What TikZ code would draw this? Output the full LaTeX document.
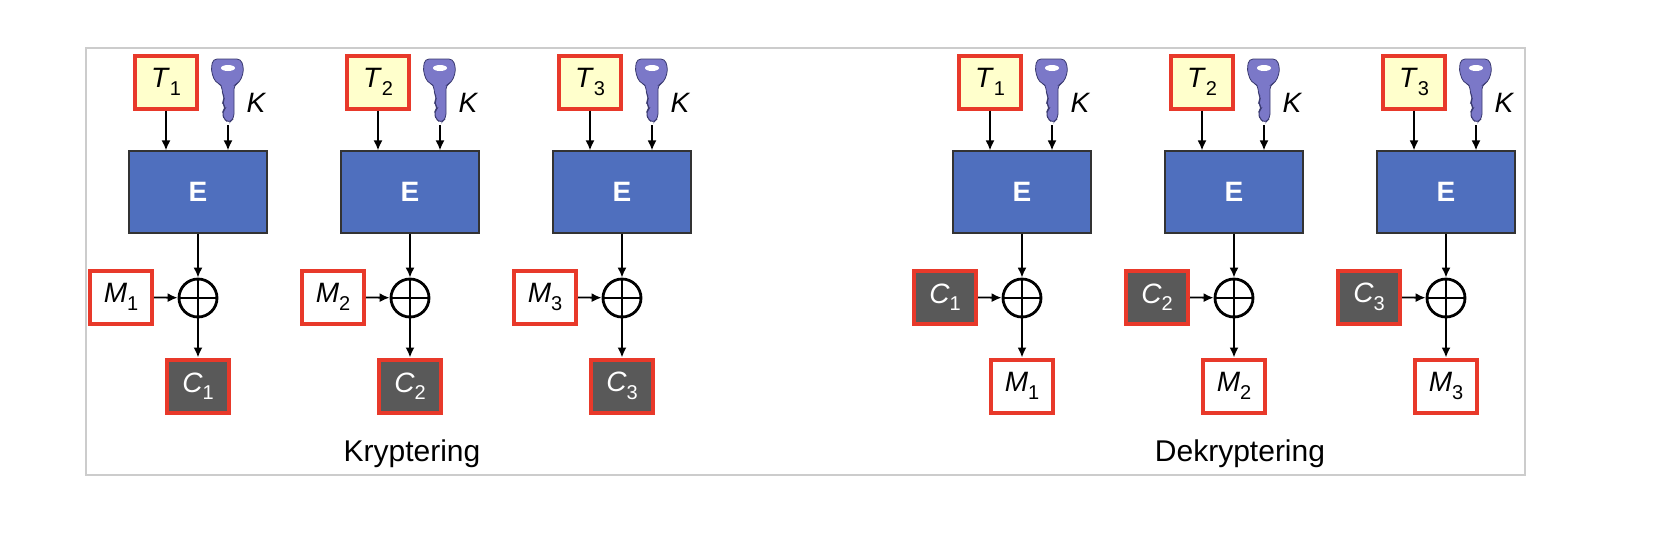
\documentclass[tikz,border=0pt]{standalone}
\usepackage{fontspec}
\setmainfont{Liberation Sans}
\usetikzlibrary{arrows.meta}
\definecolor{redb}{HTML}{E8392A}
\definecolor{eblue}{HTML}{4F6FBE}
\definecolor{keyc}{HTML}{7B78C8}
\definecolor{keyd}{HTML}{3A3A70}
\definecolor{tyel}{HTML}{FFFFCC}
\definecolor{dgray}{HTML}{595959}
\begin{document}
\begin{tikzpicture}[x=0.5pt,y=-0.5pt,
  lbl/.style={font=\fontsize{14}{16}\selectfont},
  rbox/.style={draw=redb,line width=2pt,minimum width=31pt,minimum height=26.5pt,inner sep=0pt,lbl},
  tbox/.style={rbox,fill=tyel},
  wbox/.style={rbox,fill=white},
  dbox/.style={rbox,fill=dgray,text=white},
  ebox/.style={draw=black!80,line width=0.6pt,fill=eblue,minimum width=69pt,minimum height=41pt,text=white,font=\fontsize{14}{16}\selectfont\bfseries},
  xor/.style={circle,draw,line width=1.4pt,minimum size=19pt,inner sep=0pt,
    path picture={\draw[line width=1.4pt] (path picture bounding box.north)--(path picture bounding box.south) (path picture bounding box.west)--(path picture bounding box.east);}},
  arr/.style={line width=0.9pt,-{Latex[length=5pt,width=4.5pt]}}]
\useasboundingbox (0,0) rectangle (1678,538);
\draw[black!20,line width=0.6pt] (86,48) rectangle (1525,475);
\foreach \dx/\i/\p/\enc in {0/1/a/1,212/2/b/1,424/3/c/1,824/1/d/0,1036/2/e/0,1248/3/f/0}{
 \begin{scope}[shift={(\dx,0)}]
  \node[tbox] (T\p) at (166,82) {\textit{T}\raisebox{-0.5ex}{\fontsize{10}{12}\selectfont\i}};
  \filldraw[keyc,draw=keyd,line width=0.4pt,rounded corners=2pt] (213,59) -- (241,59) -- (244,70) -- (240,82) -- (234,85) -- (234,118) -- (229,123) -- (224,119) -- (222,112) -- (226,108) -- (222,103) -- (225,98) -- (222,93) -- (222,85) -- (215,82) -- (211,70) -- cycle;
  \fill[white] (228,68) ellipse (7 and 3);
  \node[lbl,font=\fontsize{14}{16}\selectfont\itshape] (K\p) at (256,103) {K};
  \coordinate (k\p) at (228,125);
  \node[ebox] (E\p) at (198,192) {E};
  \node[xor] (X\p) at (198,298) {};
  \ifnum\enc=1
   \node[wbox] (L\p) at (121,297) {\textit{M}\raisebox{-0.5ex}{\fontsize{10}{12}\selectfont\i}};
   \node[dbox] (B\p) at (198,386) {\textit{C}\raisebox{-0.5ex}{\fontsize{10}{12}\selectfont\i}};
  \else
   \node[dbox] (L\p) at (121,297) {\textit{C}\raisebox{-0.5ex}{\fontsize{10}{12}\selectfont\i}};
   \node[wbox] (B\p) at (198,386) {\textit{M}\raisebox{-0.5ex}{\fontsize{10}{12}\selectfont\i}};
  \fi
  \draw[arr] (T\p) -- (T\p |- E\p.north);
  \draw[arr] (k\p) -- (k\p |- E\p.north);
  \draw[arr] (E\p) -- (X\p);
  \draw[arr] (L\p) -- (X\p);
  \draw[arr] (X\p) -- (B\p);
 \end{scope}
}
\node[font=\fontsize{15}{18}\selectfont] (kr) at (412,454) {Kryptering};
\node[font=\fontsize{15}{18}\selectfont] (dk) at (1240,454) {Dekryptering};
\end{tikzpicture}
\end{document}
